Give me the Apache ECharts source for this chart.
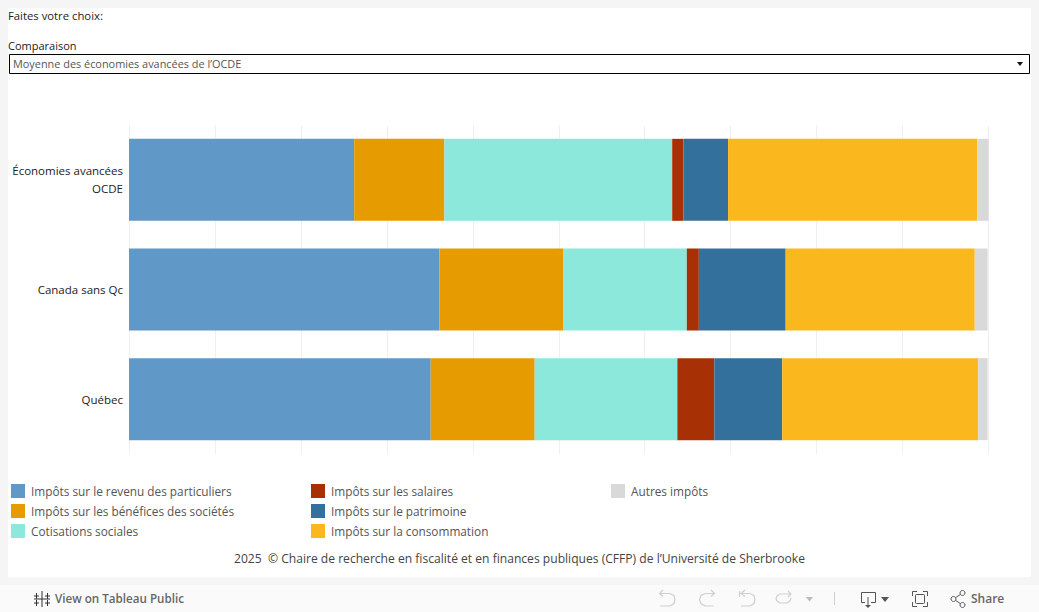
<!DOCTYPE html>
<html><head><meta charset="utf-8">
<style>html,body{margin:0;padding:0;background:#f5f5f5;overflow:hidden}#c{width:1039px;height:612px}</style>
<script src="https://cdn.jsdelivr.net/npm/echarts@6/dist/echarts.min.js"></script>
</head><body><div id="c"></div>
<script>
const categories = ["Économies avancées\nOCDE", "Canada sans Qc", "Québec"];
const revenu = [26.2, 36.1, 35.1];
const benefices = [10.5, 14.4, 12.1];
const cotisations = [26.5, 14.4, 16.6];
const salaires = [1.3, 1.4, 4.3];
const patrimoine = [5.2, 10.1, 7.9];
const consommation = [29.0, 22.0, 22.8];
const autres = [1.3, 1.5, 1.1];
const seriesNames = ["Impôts sur le revenu des particuliers","Impôts sur les bénéfices des sociétés","Cotisations sociales","Impôts sur les salaires","Impôts sur le patrimoine","Impôts sur la consommation","Autres impôts"];
const seriesValues = [revenu, benefices, cotisations, salaires, patrimoine, consommation, autres];
const colors = ["#6098c8","#e69b00","#8ce8da","#a83005","#34709c","#fbb81e","#d9d9d9"];
const FONT = "Open Sans";
const chart = echarts.init(document.getElementById('c'), null, {renderer:'svg'});
function txt(x,y,t,size,col,weight,align){return {type:'text',x,y,silent:true,style:{text:t,fontFamily:FONT,fontSize:size,fill:col,fontWeight:weight||'normal',align:align||'left',verticalAlign:'middle'}};}
function ln(points,col,w){return {type:'polyline',silent:true,shape:{points},style:{fill:'none',stroke:col,lineWidth:w||1}};}
function legend(x,data){return {orient:'vertical',left:x,top:484,itemWidth:14,itemHeight:14,itemGap:6,padding:0,selectedMode:false,data,icon:'rect',
 textStyle:{fontFamily:FONT,fontSize:11.8,color:'#555',padding:[0,0,0,1]}};}
const G='#cfcfcf', D='#555';
const logo=[];
[[42,591,607,34,50],[36.5,593,599,34,39],[47.5,593,599,45,50],[36.5,600,606,34,39],[47.5,600,606,45,50]].forEach(a=>{
  logo.push(ln([[a[0],a[1]],[a[0],a[2]]],'#333',1));
  logo.push(ln([[a[3],(a[1]+a[2])/2],[a[4],(a[1]+a[2])/2]],'#333',1));
});
chart.setOption({
 animation:false,
 backgroundColor:'#f5f5f5',
 color:colors,
 grid:{left:129,right:50.5,top:125,bottom:158},
 xAxis:{type:'value',min:0,max:100,interval:10,axisLabel:{show:false},axisTick:{show:false},axisLine:{show:false},splitLine:{show:true,lineStyle:{color:'#f0f0f0',width:1}}},
 yAxis:{type:'category',inverse:true,data:categories,axisTick:{show:false},axisLine:{show:false},
  axisLabel:{fontFamily:FONT,fontSize:11.5,color:'#222',lineHeight:18,margin:6,align:'right'}},
 legend:[legend(11,seriesNames.slice(0,3)),legend(311,seriesNames.slice(3,6)),legend(611,seriesNames.slice(6))],
 series:seriesNames.map((n,i)=>({name:n,type:'bar',stack:'t',barWidth:82,data:seriesValues[i],z:3,itemStyle:{color:colors[i]},emphasis:{disabled:true}})),
 graphic:{elements:[
  {type:'rect',z:-10,silent:true,shape:{x:8,y:8,width:1023,height:569},style:{fill:'#fff'}},
  {type:'rect',z:-10,silent:true,shape:{x:0,y:585,width:1039,height:27},style:{fill:'#fafafa'}},
  txt(8,15.5,'Faites votre choix:',11.3,'#222'),
  txt(8,45.5,'Comparaison',11,'#222'),
  {type:'rect',silent:true,shape:{x:9.5,y:54.5,width:1020,height:19},style:{fill:'#fff',stroke:'#000',lineWidth:1}},
  txt(13,63.5,'Moyenne des économies avancées de l’OCDE',10.9,'#555'),
  {type:'polygon',silent:true,shape:{points:[[1017,62],[1023,62],[1020,66]]},style:{fill:'#111'}},
  txt(519.5,558.5,'2025  © Chaire de recherche en fiscalité et en finances publiques (CFFP) de l’Université de Sherbrooke',12.1,'#444','normal','center'),
  txt(55,598.5,'View on Tableau Public',11.65,'#666','600'),
  txt(971,598.5,'Share',12,'#666','600'),
  ...logo,
  ln([[663,590],[659.5,593.5],[663,596.5]],G,1.2),
  ln([[660,593.5],[670,593.5],[674,595.5],[675,599.5],[674,603.5],[670,606],[660,606]],G,1.2),
  ln([[711,590],[714.5,593.5],[711,596.5]],G,1.2),
  ln([[714,593.5],[705,593.5],[701,595.5],[699.5,599.5],[701,603.5],[705,606],[714,606]],G,1.2),
  ln([[739.5,591],[739.5,597]],G,1.2),
  ln([[745,590],[741,593.5],[745,596.5]],G,1.2),
  ln([[741,593.5],[750,593.5],[754,595.5],[755,599.5],[754,603.5],[750,606],[741,606]],G,1.2),
  ln([[788,591],[791,594],[788,597]],G,1.2),
  ln([[790,594],[780,594],[777,596],[776,598.5],[777,601],[780,603],[787,603],[790,601],[791,598]],G,1.2),
  {type:'polygon',silent:true,shape:{points:[[806,597],[813,597],[809.5,601.5]]},style:{fill:'#bbb'}},
  ln([[834.5,592],[834.5,605]],G,1),
  ln([[865,602.5],[861.5,602.5],[861.5,592.5],[875.5,592.5],[875.5,602.5],[871,602.5]],D,1),
  ln([[868,597],[868,606]],D,1),
  {type:'polygon',silent:true,shape:{points:[[865,605],[871,605],[868,608]]},style:{fill:D}},
  {type:'polygon',silent:true,shape:{points:[[881,597],[889,597],[885,602]]},style:{fill:D}},
  ln([[912.5,596],[912.5,591.5],[917,591.5]],D,1),
  ln([[923,591.5],[927.5,591.5],[927.5,596]],D,1),
  ln([[927.5,602],[927.5,606.5],[923,606.5]],D,1),
  ln([[917,606.5],[912.5,606.5],[912.5,602]],D,1),
  {type:'rect',silent:true,shape:{x:915.5,y:594.5,width:9,height:9,r:1},style:{fill:'none',stroke:D,lineWidth:1}},
  ln([[955,598],[961,594]],D,1),
  ln([[955,600],[961,604]],D,1),
  {type:'circle',silent:true,shape:{cx:953.5,cy:599,r:2.5},style:{fill:'#fafafa',stroke:D}},
  {type:'circle',silent:true,shape:{cx:962.5,cy:593,r:2.5},style:{fill:'#fafafa',stroke:D}},
  {type:'circle',silent:true,shape:{cx:962.5,cy:605,r:2.5},style:{fill:'#fafafa',stroke:D}}
 ]}
});
</script></body></html>
